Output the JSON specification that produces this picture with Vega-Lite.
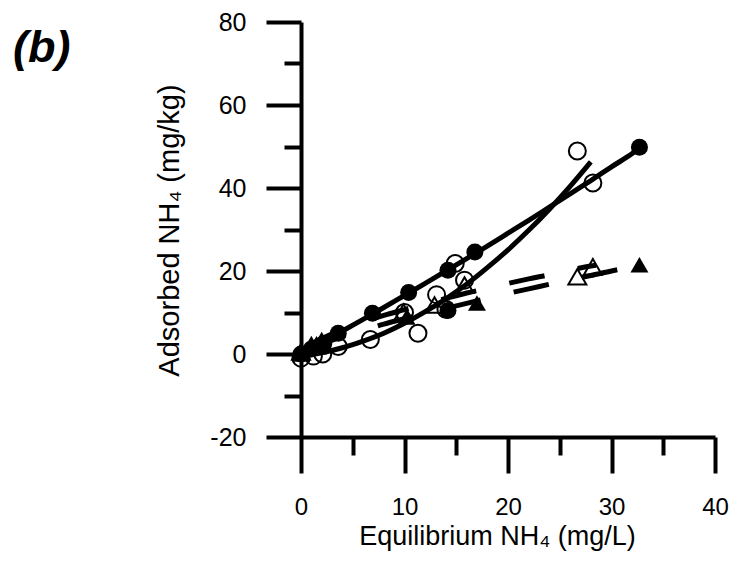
{
  "$schema": "https://vega.github.io/schema/vega-lite/v6.json",
  "width": 414,
  "height": 415,
  "autosize": {"type": "none"},
  "padding": {"left": 301, "top": 22, "right": 23, "bottom": 128},
  "background": "white",
  "config": {"view": {"stroke": null}, "font": "Liberation Sans"},
  "title": {"text": "(b)", "anchor": "start", "frame": "group", "orient": "top", "offset": 0, "dx": -288, "dy": 97, "baseline": "alphabetic", "fontSize": 45, "fontStyle": "italic", "fontWeight": "bold", "font": "Liberation Sans", "color": "black"},
  "datasets": {
    "pts": [
      {"s": "fc", "x": 0, "y": 0}, {"s": "fc", "x": 1, "y": 1.2}, {"s": "fc", "x": 2.2, "y": 2.5}, {"s": "fc", "x": 3.6, "y": 5},
      {"s": "fc", "x": 6.9, "y": 9.8}, {"s": "fc", "x": 10.4, "y": 14.8}, {"s": "fc", "x": 14.2, "y": 20.2}, {"s": "fc", "x": 16.8, "y": 24.6},
      {"s": "fc", "x": 32.7, "y": 49.8}, {"s": "fc", "x": 14.2, "y": 10.5},
      {"s": "oc", "x": 0, "y": -1}, {"s": "oc", "x": 1.2, "y": -0.5}, {"s": "oc", "x": 2.1, "y": 0}, {"s": "oc", "x": 3.6, "y": 1.8},
      {"s": "oc", "x": 6.7, "y": 3.5}, {"s": "oc", "x": 10, "y": 10}, {"s": "oc", "x": 11.3, "y": 5}, {"s": "oc", "x": 13.1, "y": 14.3},
      {"s": "oc", "x": 14, "y": 10.8}, {"s": "oc", "x": 14.9, "y": 21.8}, {"s": "oc", "x": 15.8, "y": 17.8}, {"s": "oc", "x": 26.7, "y": 48.9},
      {"s": "oc", "x": 28.2, "y": 41.2},
      {"s": "ft", "x": 0, "y": 0}, {"s": "ft", "x": 1, "y": 2.5}, {"s": "ft", "x": 2, "y": 3.5}, {"s": "ft", "x": 10.2, "y": 8.9},
      {"s": "ft", "x": 17, "y": 12.3}, {"s": "ft", "x": 32.7, "y": 21.5},
      {"s": "ot", "x": 0, "y": 0.5}, {"s": "ot", "x": 1.5, "y": 2}, {"s": "ot", "x": 9.9, "y": 10.1}, {"s": "ot", "x": 12.9, "y": 11.8},
      {"s": "ot", "x": 15.8, "y": 16.6}, {"s": "ot", "x": 26.7, "y": 18.6}, {"s": "ot", "x": 28.2, "y": 21}
    ],
    "fits": [
      {"f": "c1", "x": 0, "y": 0}, {"f": "c1", "x": 2, "y": 2.75}, {"f": "c1", "x": 4, "y": 5.53}, {"f": "c1", "x": 6, "y": 8.35},
      {"f": "c1", "x": 8, "y": 11.2}, {"f": "c1", "x": 10, "y": 14.1}, {"f": "c1", "x": 12, "y": 17.0}, {"f": "c1", "x": 14, "y": 20.0},
      {"f": "c1", "x": 16, "y": 23.0}, {"f": "c1", "x": 18, "y": 26.0}, {"f": "c1", "x": 20, "y": 29.1}, {"f": "c1", "x": 22, "y": 32.2},
      {"f": "c1", "x": 24, "y": 35.4}, {"f": "c1", "x": 26, "y": 38.6}, {"f": "c1", "x": 28, "y": 41.8}, {"f": "c1", "x": 30, "y": 45.1},
      {"f": "c1", "x": 32, "y": 48.3}, {"f": "c1", "x": 32.7, "y": 49.6},
      {"f": "c2", "x": 0, "y": -0.5}, {"f": "c2", "x": 2, "y": 0.3}, {"f": "c2", "x": 4, "y": 1.5}, {"f": "c2", "x": 6, "y": 3.1},
      {"f": "c2", "x": 8, "y": 5.0}, {"f": "c2", "x": 10, "y": 7.4}, {"f": "c2", "x": 12, "y": 10.2}, {"f": "c2", "x": 14, "y": 13.3},
      {"f": "c2", "x": 16, "y": 16.8}, {"f": "c2", "x": 18, "y": 20.8}, {"f": "c2", "x": 20, "y": 25.1}, {"f": "c2", "x": 22, "y": 29.8},
      {"f": "c2", "x": 24, "y": 34.9}, {"f": "c2", "x": 26, "y": 40.4}, {"f": "c2", "x": 28, "y": 46.3},
      {"f": "t1", "x": 0, "y": 0}, {"f": "t1", "x": 1, "y": 1.4}, {"f": "t1", "x": 2, "y": 2.4}, {"f": "t1", "x": 4, "y": 4.2},
      {"f": "t1", "x": 6, "y": 5.7}, {"f": "t1", "x": 8, "y": 7.2}, {"f": "t1", "x": 10, "y": 8.5}, {"f": "t1", "x": 12, "y": 9.8},
      {"f": "t1", "x": 14, "y": 11.0}, {"f": "t1", "x": 16, "y": 12.2}, {"f": "t1", "x": 18, "y": 13.4}, {"f": "t1", "x": 20, "y": 14.6},
      {"f": "t1", "x": 22, "y": 15.7}, {"f": "t1", "x": 24, "y": 16.8}, {"f": "t1", "x": 26, "y": 17.9}, {"f": "t1", "x": 28, "y": 18.9},
      {"f": "t1", "x": 30, "y": 20.0}, {"f": "t1", "x": 32, "y": 21.0}, {"f": "t1", "x": 33, "y": 21.5},
      {"f": "t2", "x": 0, "y": 0}, {"f": "t2", "x": 1, "y": 2.35}, {"f": "t2", "x": 2, "y": 3.7}, {"f": "t2", "x": 4, "y": 5.9},
      {"f": "t2", "x": 6, "y": 7.7}, {"f": "t2", "x": 8, "y": 9.3}, {"f": "t2", "x": 10, "y": 10.7}, {"f": "t2", "x": 12, "y": 12.1},
      {"f": "t2", "x": 14, "y": 13.4}, {"f": "t2", "x": 16, "y": 14.7}, {"f": "t2", "x": 18, "y": 15.8}, {"f": "t2", "x": 20, "y": 17.0},
      {"f": "t2", "x": 22, "y": 18.1}, {"f": "t2", "x": 24, "y": 19.1}, {"f": "t2", "x": 26, "y": 20.2}, {"f": "t2", "x": 28, "y": 21.2},
      {"f": "t2", "x": 28.5, "y": 21.4}
    ]
  },
  "encoding": {
    "x": {"field": "x", "type": "quantitative",
      "scale": {"domain": [0, 40], "nice": false, "zero": false},
      "axis": {"title": "Equilibrium NH₄ (mg/L)", "values": [0, 5, 10, 15, 20, 25, 30, 35, 40],
        "labelExpr": "datum.value % 10 === 0 ? '' + datum.value : ''",
        "grid": false, "domainColor": "black", "domainWidth": 4, "tickColor": "black", "tickWidth": 4,
        "tickSize": {"condition": {"test": "datum.value % 10 === 0", "value": 36}, "value": 18},
        "labelFont": "Liberation Sans", "labelFontSize": 24, "labelColor": "black", "labelPadding": 22, "labelFlush": false,
        "titleFont": "Liberation Sans", "titleFontSize": 27, "titleFontWeight": "normal", "titleColor": "black",
        "titleX": 196, "titleY": 107, "titleBaseline": "alphabetic", "titleAlign": "center"}},
    "y": {"field": "y", "type": "quantitative",
      "scale": {"domain": [-20, 80], "nice": false, "zero": false},
      "axis": {"title": "Adsorbed NH₄ (mg/kg)", "values": [-20, -10, 0, 10, 20, 30, 40, 50, 60, 70, 80],
        "labelExpr": "datum.value % 20 === 0 ? '' + datum.value : ''",
        "grid": false, "domainColor": "black", "domainWidth": 4, "tickColor": "black", "tickWidth": 4,
        "tickSize": {"condition": {"test": "datum.value % 20 === 0", "value": 35}, "value": 17},
        "labelFont": "Liberation Sans", "labelFontSize": 25, "labelColor": "black", "labelPadding": 20, "labelFlush": false,
        "titleFont": "Liberation Sans", "titleFontSize": 29, "titleFontWeight": "normal", "titleColor": "black",
        "titleX": -123, "titleY": 208, "titleBaseline": "alphabetic", "titleAlign": "center", "titleAngle": -90}}
  },
  "layer": [
    {"data": {"name": "fits"}, "transform": [{"filter": "datum.f === 'c1' || datum.f === 'c2'"}],
      "mark": {"type": "line", "color": "black", "strokeWidth": 5, "interpolate": "monotone", "strokeCap": "butt"},
      "encoding": {"detail": {"field": "f"}}},
    {"data": {"name": "fits"}, "transform": [{"filter": "datum.f === 't1' || datum.f === 't2'"}],
      "mark": {"type": "line", "color": "black", "strokeWidth": 5, "interpolate": "monotone", "strokeCap": "butt", "strokeDash": [36, 34], "strokeDashOffset": 58},
      "encoding": {"detail": {"field": "f"}}},
    {"data": {"name": "pts"}, "transform": [{"filter": "datum.s === 'oc'"}],
      "mark": {"type": "point", "shape": "circle", "size": 289, "filled": false, "stroke": "black", "strokeWidth": 2, "opacity": 1}},
    {"data": {"name": "pts"}, "transform": [{"filter": "datum.s === 'ot'"}],
      "mark": {"type": "point", "shape": "triangle-up", "size": 324, "filled": false, "stroke": "black", "strokeWidth": 2, "opacity": 1}},
    {"data": {"name": "pts"}, "transform": [{"filter": "datum.s === 'fc'"}],
      "mark": {"type": "point", "shape": "circle", "size": 289, "filled": true, "color": "black", "opacity": 1}},
    {"data": {"name": "pts"}, "transform": [{"filter": "datum.s === 'ft'"}],
      "mark": {"type": "point", "shape": "triangle-up", "size": 324, "filled": true, "color": "black", "opacity": 1}}
  ]
}
